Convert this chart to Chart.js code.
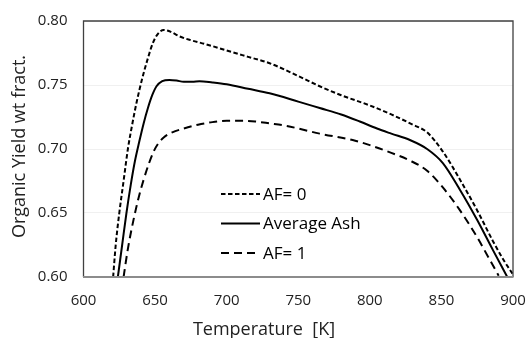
<!DOCTYPE html>
<html>
<head>
<meta charset="utf-8">
<script src="https://cdn.jsdelivr.net/npm/chart.js@4.4.1/dist/chart.umd.min.js"></script>
<style>
  html, body { margin: 0; padding: 0; background: #fff; }
  #wrap { width: 527px; height: 338px; }
</style>
</head>
<body>
<div id="wrap"><canvas id="canvas" width="527" height="338"></canvas></div>
<script>
// temperatures [K] and organic yield (wt fract.)
var afZeroT = [620.7, 622.5, 625, 628, 631, 634, 637, 641, 645, 648.5, 652, 656, 660, 667, 675, 685, 700, 715, 730, 750, 765, 780, 800, 815, 830, 840, 851, 863, 875, 886, 893, 900];
var afZeroY = [0.600, 0.625, 0.650, 0.675, 0.700, 0.719, 0.736, 0.755, 0.771, 0.783, 0.790, 0.793, 0.792, 0.788, 0.785, 0.782, 0.777, 0.772, 0.767, 0.757, 0.749, 0.742, 0.734, 0.727, 0.719, 0.713, 0.698, 0.676, 0.652, 0.628, 0.614, 0.602];

var avgT = [624, 627, 630, 633, 636, 639, 642, 645, 648, 651, 655, 660, 665, 670, 676, 681, 690, 700, 715, 730, 750, 765, 780, 793, 805, 815, 828, 840, 851, 863, 875, 886, 896];
var avgY = [0.600, 0.625, 0.650, 0.672, 0.691, 0.706, 0.720, 0.732, 0.742, 0.749, 0.753, 0.754, 0.7535, 0.7525, 0.7525, 0.753, 0.752, 0.7505, 0.747, 0.7435, 0.737, 0.732, 0.727, 0.7215, 0.716, 0.712, 0.707, 0.700, 0.689, 0.668, 0.6445, 0.621, 0.600];

var afOneT = [628, 631, 635, 638.5, 642, 645.5, 649, 652, 656, 662, 670, 680, 690, 700, 710, 720, 730, 742, 765, 788, 800, 815, 828, 840, 851, 863, 875, 883, 890];
var afOneY = [0.600, 0.622, 0.645, 0.662, 0.676, 0.688, 0.698, 0.704, 0.709, 0.713, 0.716, 0.719, 0.721, 0.722, 0.722, 0.7215, 0.720, 0.718, 0.712, 0.707, 0.703, 0.697, 0.691, 0.683, 0.670, 0.652, 0.631, 0.615, 0.601];

var xTicks = [600, 650, 700, 750, 800, 850, 900];
var yTicks = [0.60, 0.65, 0.70, 0.75, 0.80];

var seriesNames = ['AF= 0', 'Average Ash', 'AF= 1'];

function pts(xs, ys) {
  return xs.map(function(x, i) { return { x: x, y: ys[i] }; });
}

var FONT = '"Open Sans", "Noto Sans", sans-serif';

// frame, legend and axis titles drawn on top of the chart
var decorPlugin = {
  id: 'decor',
  afterDraw: function(chart) {
    var ctx = chart.ctx;
    var a = chart.chartArea;
    ctx.save();
    // box
    ctx.strokeStyle = '#404040';
    ctx.lineWidth = 1.3;
    ctx.beginPath();
    ctx.moveTo(a.left, a.bottom);
    ctx.lineTo(a.left, a.top);
    ctx.lineTo(a.right, a.top);
    ctx.lineTo(a.right, a.bottom);
    ctx.stroke();
    ctx.strokeStyle = '#8c8c8c';
    ctx.lineWidth = 2;
    ctx.beginPath();
    ctx.moveTo(a.left - 0.5, a.bottom);
    ctx.lineTo(a.right + 0.5, a.bottom);
    ctx.stroke();

    // legend
    var rows = [194, 223.5, 253];
    ctx.font = '17px ' + FONT;
    ctx.fillStyle = '#000';
    ctx.textBaseline = 'middle';
    ctx.textAlign = 'left';
    chart.data.datasets.forEach(function(ds, i) {
      ctx.strokeStyle = '#000';
      ctx.lineWidth = 2;
      ctx.setLineDash(ds.borderDash || []);
      ctx.beginPath();
      ctx.moveTo(221, rows[i]);
      ctx.lineTo(260, rows[i]);
      ctx.stroke();
      ctx.setLineDash([]);
      ctx.fillText(ds.label, 263, rows[i] + 1);
    });

    // axis titles
    ctx.font = '18px ' + FONT;
    ctx.textAlign = 'center';
    ctx.textBaseline = 'alphabetic';
    ctx.fillStyle = '#222';
    ctx.fillText('Temperature  [K]', 264, 334.5);
    ctx.translate(25, 146.5);
    ctx.rotate(-Math.PI / 2);
    ctx.fillText('Organic Yield wt fract.', 0, 0);
    ctx.restore();
  }
};

window.onload = function() {
  var ctx = document.getElementById('canvas').getContext('2d');
  window.myChart = new Chart(ctx, {
    type: 'scatter',
    data: {
      datasets: [{
        label: seriesNames[0],
        data: pts(afZeroT, afZeroY),
        borderColor: '#000',
        borderWidth: 2,
        borderDash: [4.5, 2.5]
      }, {
        label: seriesNames[1],
        data: pts(avgT, avgY),
        borderColor: '#000',
        borderWidth: 2
      }, {
        label: seriesNames[2],
        data: pts(afOneT, afOneY),
        borderColor: '#000',
        borderWidth: 2,
        borderDash: [8, 5]
      }]
    },
    options: {
      responsive: false,
      animation: false,
      showLine: true,
      elements: {
        point: { radius: 0 },
        line: { cubicInterpolationMode: 'monotone', fill: false }
      },
      layout: { padding: { left: 0, right: 14, top: 21, bottom: 0 } },
      plugins: {
        legend: { display: false },
        tooltip: { enabled: false }
      },
      scales: {
        x: {
          type: 'linear',
          min: xTicks[0],
          max: xTicks[xTicks.length - 1],
          afterBuildTicks: function(scale) {
            scale.ticks = xTicks.map(function(v) { return { value: v }; });
          },
          afterFit: function(scale) {
            scale.height = 61;
            scale.paddingLeft = 0;
            scale.paddingRight = 0;
          },
          grid: { display: false, drawTicks: false },
          border: { display: false },
          ticks: {
            color: '#222',
            font: { family: FONT, size: 15 },
            padding: 15,
            maxRotation: 0
          }
        },
        y: {
          min: yTicks[0],
          max: yTicks[yTicks.length - 1],
          afterBuildTicks: function(scale) {
            scale.ticks = yTicks.map(function(v) { return { value: v }; });
          },
          afterFit: function(scale) {
            scale.width = 83.5;
            scale.paddingTop = 0;
            scale.paddingBottom = 0;
          },
          grid: { color: '#f0f0f0', lineWidth: 1, drawTicks: false },
          border: { display: false },
          ticks: {
            color: '#222',
            font: { family: FONT, size: 15 },
            padding: 16,
            callback: function(v) { return Number(v).toFixed(2); }
          }
        }
      }
    },
    plugins: [decorPlugin]
  });
};
</script>
</body>
</html>
